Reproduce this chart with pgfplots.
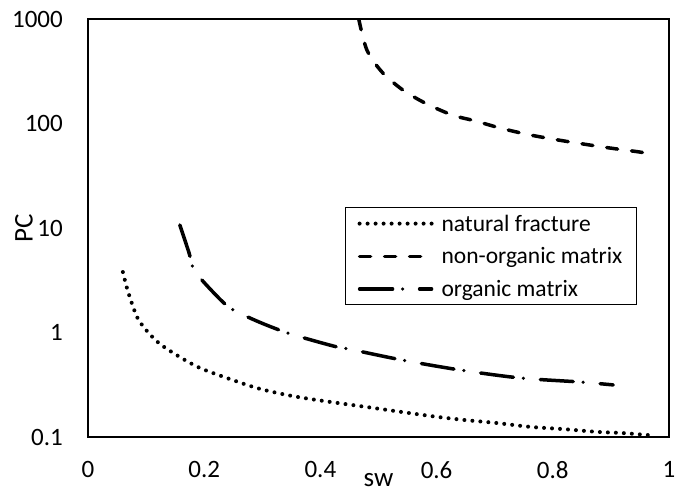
\documentclass[border=0pt]{standalone}
\usepackage{fontspec}
\setmainfont{Carlito}
\usepackage{pgfplots}
\pgfplotsset{compat=1.18}
\pgfplotsset{longlegend/.style={legend image code/.code={\draw[##1] (0pt,0pt) -- (72pt,0pt);}}}
\begin{document}
\begin{tikzpicture}
\useasboundingbox (-88pt,-56pt) rectangle (587pt,437pt);
\begin{axis}[
  at={(0pt,0pt)}, anchor=south west,
  scale only axis,
  width=581pt, height=418pt,
  ymode=log,
  xmin=0, xmax=1, ymin=0.1, ymax=1000,
  axis line style={line width=1.6pt, black},
  major tick length=0pt,
  yminorticks=false,
  xtick={0,0.2,0.4,0.6,0.8,1},
  xticklabels={0,0.2,0.4,0.6,0.8,1},
  ytick={0.1,1,10,100,1000},
  yticklabels={0.1,1,10,100,1000},
  /pgf/number format/assume math mode=true,
  xticklabel style={font=\fontsize{25}{29}\selectfont, inner sep=0pt, yshift=-24pt},
  yticklabel style={font=\fontsize{25}{29}\selectfont, inner sep=0pt, xshift=-25pt},
  xlabel={sw},
  ylabel={PC},
  xlabel style={font=\fontsize{27}{31}\selectfont, inner sep=0pt, at={(axis description cs:0.5,0)}, anchor=north, yshift=-36pt},
  ylabel style={font=\fontsize{27}{31}\selectfont, inner sep=0pt, at={(axis description cs:0,0.5)}, anchor=south, yshift=55pt},
  clip=true,
  longlegend,
  legend cell align=left,
  legend style={at={(axis description cs:0.945,0.550)}, anchor=north east,
    draw=black, line width=1.2pt, font=\fontsize{23.5}{27}\selectfont,
    inner xsep=12pt, inner ysep=5pt, row sep=11pt,
    /tikz/every odd column/.append style={column sep=6pt}},
]
\addplot[black, line width=4pt, line cap=round, dash pattern=on 0pt off 8pt, smooth]
coordinates {
(0.060,3.79) (0.067,2.67) (0.076,1.87) (0.086,1.35) (0.103,1.01) (0.124,0.776)
(0.158,0.583) (0.193,0.457) (0.239,0.367) (0.291,0.294) (0.343,0.252) (0.394,0.226)
(0.49,0.19) (0.589,0.159) (0.645,0.146) (0.704,0.136) (0.761,0.125) (0.818,0.119)
(0.876,0.112) (0.921,0.109) (0.967,0.104)
};
\addlegendentry{natural fracture}
\addplot[black, line width=3.5pt, line cap=round, dash pattern=on 11pt off 14pt, smooth]
coordinates {
(0.466,1000) (0.480,505) (0.506,311) (0.542,209) (0.583,154) (0.628,120) (0.666,106)
(0.709,90.6) (0.757,78.5) (0.804,70.3) (0.852,63.7) (0.898,58.3) (0.950,53.3) (0.962,51.5)
};
\addlegendentry{non-organic matrix}
\addplot[black, line width=3.5pt, line cap=round, dash pattern=on 33pt off 10pt on 0pt off 17pt, smooth]
coordinates {
(0.158,10.7) (0.174,5.76) (0.181,4.14) (0.196,3.18) (0.232,1.96) (0.253,1.61)
(0.299,1.23) (0.349,0.968) (0.422,0.743) (0.449,0.695) (0.540,0.546) (0.640,0.438)
(0.744,0.367) (0.847,0.336) (0.904,0.315)
};
\addlegendentry{organic matrix}
\end{axis}
\end{tikzpicture}
\end{document}
